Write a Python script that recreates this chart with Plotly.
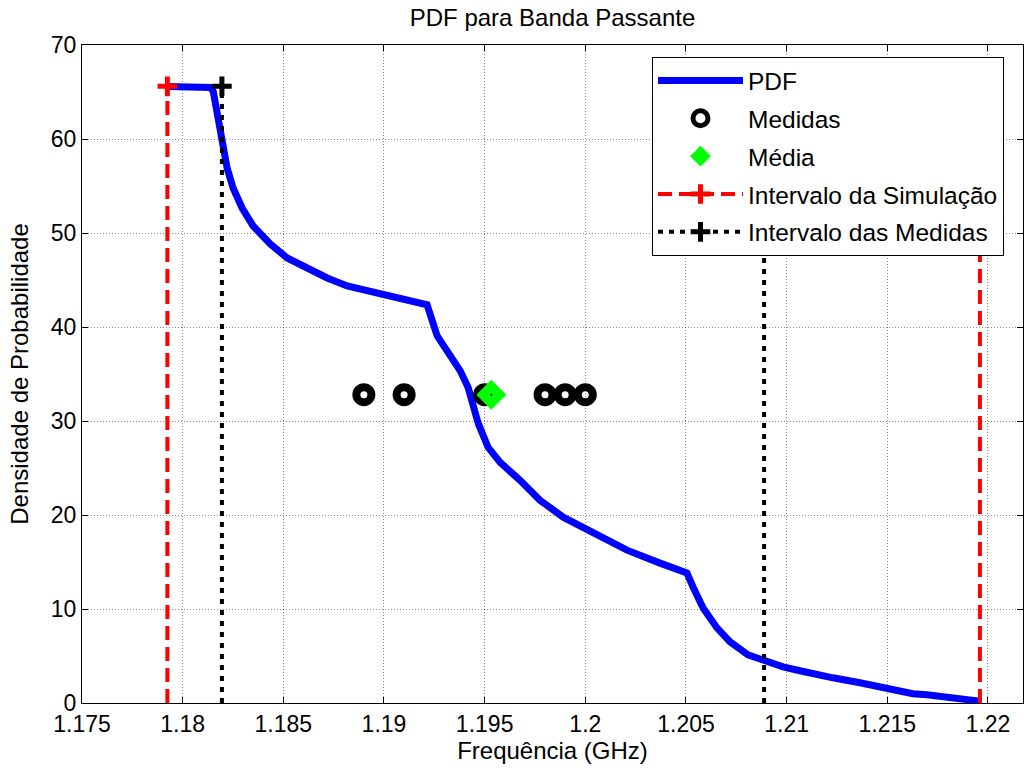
import plotly.graph_objects as go

# PDF curve (frequency in GHz, probability density)
pdf_freq = [1.17924, 1.18137, 1.18152, 1.18177, 1.18197, 1.18221, 1.18251, 1.18296,
            1.18351, 1.18435, 1.18519, 1.18619, 1.18718, 1.18817, 1.18917, 1.18981,
            1.19115, 1.19214, 1.19264, 1.19329, 1.19378, 1.19418, 1.19468, 1.19517,
            1.19577, 1.19676, 1.19775, 1.19890, 1.20073, 1.20207, 1.20371, 1.20436,
            1.20505, 1.20535, 1.20585, 1.20654, 1.20719, 1.20808, 1.20883, 1.20982,
            1.21066, 1.21126, 1.21230, 1.21364, 1.21498, 1.21627, 1.21697, 1.21826,
            1.21935, 1.21959]
pdf_dens = [65.59, 65.48, 65.06, 61.87, 59.0, 56.88, 54.76, 52.63,
            50.72, 48.83, 47.34, 46.17, 45.22, 44.37, 43.84, 43.42,
            42.89, 42.36, 39.06, 36.84, 35.36, 33.56, 29.74, 27.2,
            25.6, 23.69, 21.57, 19.77, 17.64, 16.26, 14.88, 14.35,
            13.82, 12.34, 10.11, 7.99, 6.5, 5.12, 4.49, 3.85,
            3.43, 3.11, 2.68, 2.15, 1.52, 0.99, 0.88, 0.46,
            0.24, 0.2]

# Measurements
med_freq = [1.189, 1.191, 1.195, 1.198, 1.199, 1.200]
med_level = [32.8, 32.8, 32.8, 32.8, 32.8, 32.8]

# Mean
mean_freq = [1.19533]
mean_level = [32.8]

# Intervals
sim_interval = [1.17924, 1.21960]
meas_interval = [1.18195, 1.20888]
interval_top = 65.6

x_tickvals = [1.175, 1.18, 1.185, 1.19, 1.195, 1.2, 1.205, 1.21, 1.215, 1.22]
x_ticktext = ["1.175", "1.18", "1.185", "1.19", "1.195", "1.2", "1.205", "1.21", "1.215", "1.22"]
y_tickvals = [0, 10, 20, 30, 40, 50, 60, 70]

FONT = "Liberation Sans, Arial, sans-serif"

fig = go.Figure()

fig.add_trace(go.Scatter(x=pdf_freq, y=pdf_dens, mode="lines", name="PDF",
                         line=dict(color="#0000FF", width=7), legendgroup="a"))

fig.add_trace(go.Scatter(x=med_freq, y=med_level, mode="markers", name="Medidas",
                         marker=dict(symbol="circle-open", size=15, color="black",
                                     line=dict(color="black", width=8)),
                         legendgroup="b"))

fig.add_trace(go.Scatter(x=mean_freq, y=mean_level, mode="markers", name="Média",
                         marker=dict(symbol="diamond", size=23, color="#00FF00",
                                     line=dict(width=0)),
                         legendgroup="c"))
fig.add_trace(go.Scatter(x=mean_freq, y=mean_level, mode="markers", showlegend=False,
                         marker=dict(symbol="circle", size=2, color="black"),
                         legendgroup="c", hoverinfo="skip"))


def interval_traces(xs, color, dash, name, group):
    vx, vy = [], []
    mx, my = [], []
    for xv in xs:
        vx += [xv, xv, None]
        vy += [0, interval_top, None]
        mx += [xv, None]
        my += [interval_top, None]
    fig.add_trace(go.Scatter(x=vx, y=vy, mode="lines", showlegend=False,
                             line=dict(color=color, width=4, dash=dash),
                             legendgroup=group, hoverinfo="skip"))
    fig.add_trace(go.Scatter(x=mx, y=my, mode="lines+markers", name=name,
                             line=dict(color=color, width=4, dash=dash),
                             marker=dict(symbol="cross-thin", size=14, color=color,
                                         line=dict(color=color, width=5)),
                             legendgroup=group))


interval_traces(sim_interval, "#FF0000", "14px,7px", "Intervalo da Simulação", "d")
interval_traces(meas_interval, "black", "5px,6px", "Intervalo das Medidas", "e")

axis_common = dict(showline=True, linecolor="black", linewidth=1, mirror="ticks",
                   ticks="inside", ticklen=6, tickcolor="black", showgrid=True,
                   gridcolor="rgba(0,0,0,0.45)", griddash="1px,2px", gridwidth=1,
                   zeroline=False, automargin=False,
                   tickfont=dict(family=FONT, size=23, color="black"))

fig.update_xaxes(range=[1.175, 1.22174], tickvals=x_tickvals, ticktext=x_ticktext,
                 title=dict(text="Frequência (GHz)", font=dict(family=FONT, size=24, color="black"),
                            standoff=4),
                 **axis_common)
fig.update_yaxes(range=[0, 70], tickvals=y_tickvals,
                 title=dict(text="Densidade de Probabilidade",
                            font=dict(family=FONT, size=24, color="black"), standoff=15),
                 **axis_common)

fig.update_layout(
    width=1025, height=774,
    margin=dict(l=82, r=2, t=45, b=71, autoexpand=False),
    paper_bgcolor="white", plot_bgcolor="white",
    title=dict(text="PDF para Banda Passante", x=0.5, xref="paper", xanchor="center",
               y=1 - 18 / 774, yanchor="middle",
               font=dict(family=FONT, size=24, color="black")),
    legend=dict(x=(652 - 82) / 941, y=(703 - 57) / 658, xanchor="left", yanchor="top",
                bgcolor="white", bordercolor="black", borderwidth=1,
                font=dict(family=FONT, size=24.5, color="black"),
                traceorder="grouped", tracegroupgap=3, itemwidth=85),
    showlegend=True,
)

fig.write_html("out.html", config={"displayModeBar": False},
               post_script="document.body.style.margin='0px';")
